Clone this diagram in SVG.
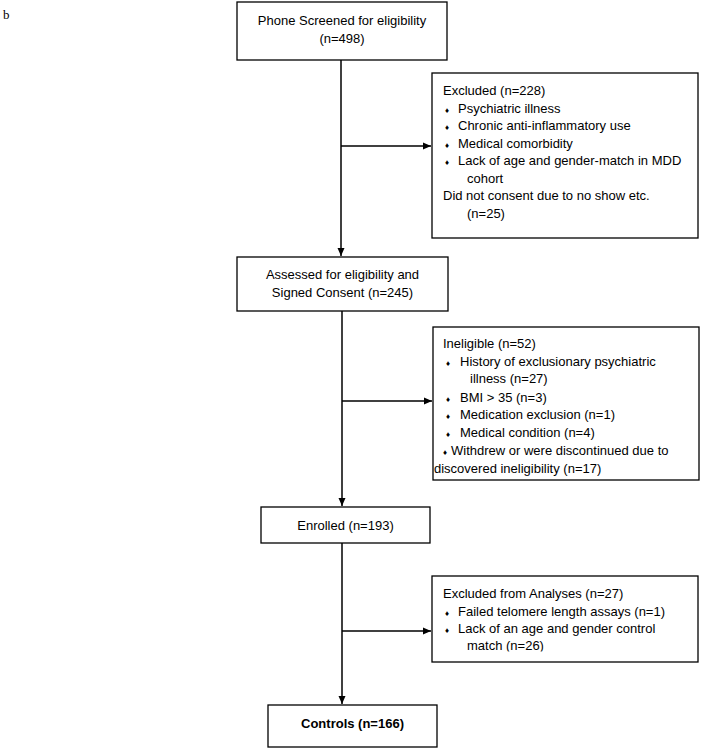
<svg xmlns="http://www.w3.org/2000/svg" width="702" height="750" viewBox="0 0 702 750">
<defs>
<marker id="ah" markerWidth="8" markerHeight="8" refX="8" refY="4" orient="auto" markerUnits="userSpaceOnUse">
<path d="M0,0.5 L8,4 L0,7.5 Z" fill="#000"/>
</marker>
<clipPath id="clip4"><rect x="432" y="576" width="266" height="75.5"/></clipPath>
<style>
.box{fill:#fff;stroke:#000;stroke-width:1.3}
.t{font-family:"Liberation Sans",Arial,sans-serif;font-size:13px;fill:#000}
.c{text-anchor:middle}
.b{font-weight:bold}
.bul{font-size:8px}
.ln{stroke:#000;stroke-width:1.5;fill:none}
</style>
</defs>
<rect width="702" height="750" fill="#fff"/>
<text x="3" y="19" font-family="Liberation Serif,serif" font-size="13">b</text>

<g id="connectors">
<line class="ln" x1="341" y1="60" x2="341" y2="256" marker-end="url(#ah)"/>
<line class="ln" x1="341" y1="146" x2="431" y2="146" marker-end="url(#ah)"/>
<line class="ln" x1="342" y1="311" x2="342" y2="506" marker-end="url(#ah)"/>
<line class="ln" x1="342" y1="401" x2="432" y2="401" marker-end="url(#ah)"/>
<line class="ln" x1="342" y1="543" x2="342" y2="704" marker-end="url(#ah)"/>
<line class="ln" x1="342" y1="631" x2="431" y2="631" marker-end="url(#ah)"/>
</g>

<g id="n1">
<rect class="box" x="237" y="2" width="210" height="58"/>
<text class="t c" x="342" y="25">Phone Screened for eligibility</text>
<text class="t c" x="342" y="43">(n=498)</text>
</g>

<g id="ex1">
<rect class="box" x="432" y="73" width="266" height="165"/>
<text class="t" x="443" y="95">Excluded (n=228)</text>
<text class="t bul" x="445" y="113">♦</text><text class="t" x="458" y="113">Psychiatric illness</text>
<text class="t bul" x="445" y="130">♦</text><text class="t" x="458" y="130">Chronic anti-inflammatory use</text>
<text class="t bul" x="445" y="148">♦</text><text class="t" x="458" y="148">Medical comorbidity</text>
<text class="t bul" x="445" y="165">♦</text><text class="t" x="458" y="165">Lack of age and gender-match in MDD</text>
<text class="t" x="467" y="183">cohort</text>
<text class="t" x="443" y="200">Did not consent due to no show etc.</text>
<text class="t" x="467" y="218">(n=25)</text>
</g>

<g id="n2">
<rect class="box" x="237" y="257" width="211" height="54"/>
<text class="t c" x="342.5" y="279">Assessed for eligibility and</text>
<text class="t c" x="342.5" y="297">Signed Consent (n=245)</text>
</g>

<g id="ex2">
<rect class="box" x="433" y="327" width="266" height="153"/>
<text class="t" x="443" y="348">Ineligible (n=52)</text>
<text class="t bul" x="446" y="366">♦</text><text class="t" x="460" y="366">History of exclusionary psychiatric</text>
<text class="t" x="470" y="383">illness (n=27)</text>
<text class="t bul" x="446" y="402">♦</text><text class="t" x="460" y="402">BMI &gt; 35 (n=3)</text>
<text class="t bul" x="446" y="419">♦</text><text class="t" x="460" y="419">Medication exclusion (n=1)</text>
<text class="t bul" x="446" y="437">♦</text><text class="t" x="460" y="437">Medical condition (n=4)</text>
<text class="t bul" x="443" y="455">♦</text><text class="t" x="451" y="455">Withdrew or were discontinued due to</text>
<text class="t" x="434" y="473">discovered ineligibility (n=17)</text>
</g>

<g id="n3">
<rect class="box" x="261" y="507" width="169" height="36"/>
<text class="t c" x="345.5" y="530">Enrolled (n=193)</text>
</g>

<g id="ex3">
<rect class="box" x="432" y="576" width="266" height="86"/>
<g clip-path="url(#clip4)">
<text class="t" x="443" y="598">Excluded from Analyses (n=27)</text>
<text class="t bul" x="445" y="616">♦</text><text class="t" x="458" y="616">Failed telomere length assays (n=1)</text>
<text class="t bul" x="445" y="633">♦</text><text class="t" x="458" y="633">Lack of an age and gender control</text>
<text class="t" x="467" y="650">match (n=26)</text>
</g>
</g>

<g id="n4">
<rect class="box" x="268" y="705" width="169" height="42"/>
<text class="t c b" x="352.5" y="728">Controls (n=166)</text>
</g>
</svg>
